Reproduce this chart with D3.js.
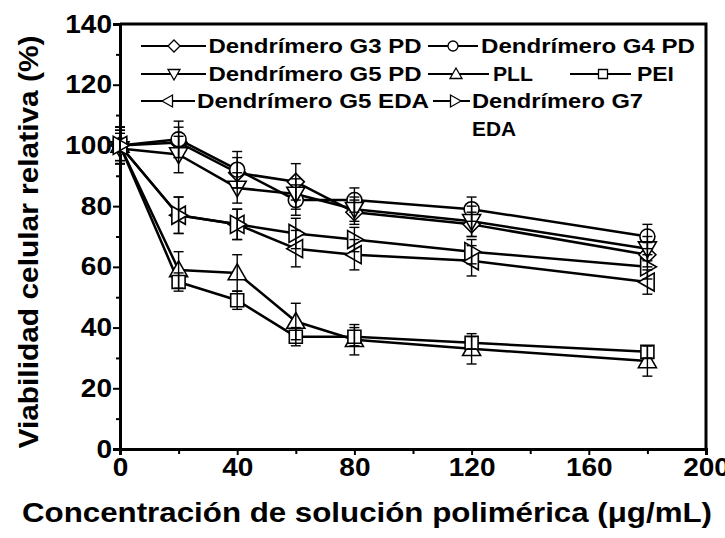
<!DOCTYPE html>
<html><head><meta charset="utf-8">
<script src="https://cdn.jsdelivr.net/npm/d3@7"></script>
<style>
html,body{margin:0;padding:0;background:#fff;}
svg{display:block;font-family:"Liberation Sans",Arial,sans-serif;font-weight:bold;}
</style></head>
<body><svg id="c" width="725" height="538"></svg>
<script>
// ---- data ----
const concentrations = [0, 20, 40, 60, 80, 120, 180];
const seriesNames = ["Dendrímero G3 PD","Dendrímero G4 PD","Dendrímero G5 PD","PLL","PEI","Dendrímero G5 EDA","Dendrímero G7 EDA"];
const g3pd  = [100, 101, 91, 88, 78, 74, 64];
const g4pd  = [100, 102, 92, 82, 82, 79, 70];
const g5pd  = [99, 97, 86, 84, 79, 75, 66];
const pll   = [100, 59, 58, 42, 36, 33, 29];
const pei   = [100, 55, 49, 37, 37, 35, 32];
const g5eda = [100, 77, 74, 66, 64, 62, 55];
const g7eda = [100, 77, 74, 71, 69, 65, 60];
const g3pdErr  = [5, 5, 5, 6, 4, 4, 4];
const g4pdErr  = [6, 6, 6, 5, 4, 4, 4];
const g5pdErr  = [5, 6, 5, 5, 4, 5, 4];
const pllErr   = [6, 6, 6, 6, 5, 5, 5];
const peiErr   = [5, 3, 3, 3, 3, 2, 2];
const g5edaErr = [6, 6, 5, 6, 5, 5, 4];
const g7edaErr = [6, 6, 5, 5, 4, 4, 4];
const xTicks = [0, 40, 80, 120, 160, 200];
const yTicks = [0, 20, 40, 60, 80, 100, 120, 140];
const xTitle = "Concentración de solución polimérica (μg/mL)";
const yTitle = "Viabilidad celular relativa  (%)";

// ---- marker shapes ----
const shapes = {
  diamond: {draw(c, r){ c.moveTo(0,-r); c.lineTo(r,0); c.lineTo(0,r); c.lineTo(-r,0); c.closePath(); }},
  circle: {draw(c, r){ c.moveTo(r,0); c.arc(0,0,r,0,2*Math.PI); }},
  square: {draw(c, r){ c.rect(-r,-r,2*r,2*r); }},
  tri: {draw(c, r){ c.moveTo(0,-r); c.lineTo(r,0.75*r); c.lineTo(-r,0.75*r); c.closePath(); }}
};
const series = [
  {name: seriesNames[0], v: g3pd, e: g3pdErr, shape: "diamond", rot: 0, r: 8.5},
  {name: seriesNames[1], v: g4pd, e: g4pdErr, shape: "circle", rot: 0, r: 7.5},
  {name: seriesNames[2], v: g5pd, e: g5pdErr, shape: "tri", rot: 180, r: 9},
  {name: seriesNames[3], v: pll, e: pllErr, shape: "tri", rot: 0, r: 9},
  {name: seriesNames[4], v: pei, e: peiErr, shape: "square", rot: 0, r: 6.5},
  {name: seriesNames[5], v: g5eda, e: g5edaErr, shape: "tri", rot: -90, r: 9},
  {name: seriesNames[6], v: g7eda, e: g7edaErr, shape: "tri", rot: 90, r: 9}
];

const svg = d3.select("#c");
const L = 120, R = 706, T = 24, B = 449;
const x = d3.scaleLinear().domain([0, 200]).range([L, R]);
const y = d3.scaleLinear().domain([0, 140]).range([B, T]);

function stretch(sel, f){ sel.each(function(){ const w = this.getComputedTextLength(); d3.select(this).attr("textLength", w*f).attr("lengthAdjust","spacingAndGlyphs"); }); }

// frame
svg.append("path").attr("d", `M${L},${T}H${R}V${B}`).attr("fill","none").attr("stroke","#000").attr("stroke-width",3);

// minor ticks
const gyMinor = svg.append("g").attr("transform",`translate(${L},0)`)
  .call(d3.axisLeft(y).tickValues(d3.range(10,140,20)).tickSize(4).tickFormat(""));
const gxMinor = svg.append("g").attr("transform",`translate(0,${B})`)
  .call(d3.axisBottom(x).tickValues(d3.range(20,200,40)).tickSize(5).tickFormat(""));
[gyMinor, gxMinor].forEach(g => { g.select(".domain").remove(); g.selectAll("line").attr("stroke-width",2); });

const gy = svg.append("g").attr("transform",`translate(${L},0)`)
  .call(d3.axisLeft(y).tickValues(yTicks).tickSize(7).tickPadding(1).tickFormat(d3.format("d")));
const gx = svg.append("g").attr("transform",`translate(0,${B})`)
  .call(d3.axisBottom(x).tickValues(xTicks).tickSize(6).tickPadding(3).tickFormat(d3.format("d")));
[gy, gx].forEach(g => {
  g.select(".domain").attr("stroke-width",3).attr("stroke","#000");
  g.selectAll(".tick line").attr("stroke-width",2).attr("stroke","#000");
  g.selectAll("text").attr("font-size",25).attr("font-family","Liberation Sans, Arial, sans-serif").attr("font-weight","bold").attr("fill","#000");
});
stretch(gy.selectAll("text"), 1.12);
stretch(gx.selectAll("text"), 1.12);

// titles
svg.append("text").attr("x", 367).attr("y", 522).attr("text-anchor","middle")
  .attr("font-size",28).text(xTitle).attr("textLength",690).attr("lengthAdjust","spacingAndGlyphs");
svg.append("text").attr("transform","translate(38,242) rotate(-90)").attr("text-anchor","middle")
  .attr("font-size",28).text(yTitle).attr("textLength",413).attr("lengthAdjust","spacingAndGlyphs");

// lines
const line = d3.line().x((d,i)=>x(concentrations[i])).y(d=>y(d));
series.forEach(s => {
  svg.append("path").attr("d", line(s.v)).attr("fill","none").attr("stroke","#000").attr("stroke-width",2.5).attr("stroke-linejoin","round");
});
// markers
function marker(g, s, cx, cy, r){
  g.append("path").attr("d", d3.symbol().type(shapes[s.shape]).size(r)())
   .attr("transform", `translate(${cx},${cy}) rotate(${s.rot})`)
   .attr("fill","#fff").attr("stroke","#000").attr("stroke-width",1.6);
}
series.forEach(s => {
  const g = svg.append("g");
  s.v.forEach((v,i) => marker(g, s, x(concentrations[i]), y(v), s.r));
});
// error bars (on top of markers)
series.forEach(s => {
  const g = svg.append("g").attr("stroke","#000").attr("stroke-width",1.4);
  s.v.forEach((v,i) => {
    const cx = x(concentrations[i]), y1 = y(v + s.e[i]), y2 = y(v - s.e[i]);
    g.append("line").attr("x1",cx).attr("x2",cx).attr("y1",y1).attr("y2",y2);
    g.append("line").attr("x1",cx-5).attr("x2",cx+5).attr("y1",y1).attr("y2",y1);
    g.append("line").attr("x1",cx-5).attr("x2",cx+5).attr("y1",y2).attr("y2",y2);
  });
});

// legend
const legend = [
  {s:0, y:46, x1:141, x2:206, mx:174, tx:208.5, tw:213},
  {s:1, y:46, x1:428, x2:478, mx:453, tx:481, tw:214},
  {s:2, y:74, x1:141, x2:206, mx:174, tx:208.5, tw:213},
  {s:3, y:74, x1:428, x2:489, mx:456, tx:493, tw:40},
  {s:4, y:74, x1:570, x2:631, mx:603, tx:637, tw:37},
  {s:5, y:101, x1:141, x2:195, mx:168, tx:197, tw:232},
  {s:6, y:101, x1:433, x2:470, mx:455, tx:472, tw:171}
];
const lg = svg.append("g");
legend.forEach(d => {
  const s = series[d.s];
  lg.append("line").attr("x1",d.x1).attr("x2",d.x2).attr("y1",d.y).attr("y2",d.y).attr("stroke","#000").attr("stroke-width",2);
  lg.append("path").attr("d", d3.symbol().type(shapes[s.shape]).size(s.shape==="square"?4.5:(s.shape==="circle"?5:6))())
    .attr("transform",`translate(${d.mx},${d.y}) rotate(${s.rot})`).attr("fill","#fff").attr("stroke","#000").attr("stroke-width",1.3);
  const lines = s.name === "Dendrímero G7 EDA" ? ["Dendrímero G7","EDA"] : [s.name];
  lines.forEach((t,k) => {
    lg.append("text").attr("x",d.tx).attr("y",d.y+7+k*28).attr("font-size",20).text(t)
      .attr("textLength", k===0 ? d.tw : 44).attr("lengthAdjust","spacingAndGlyphs");
  });
});
</script></body></html>
